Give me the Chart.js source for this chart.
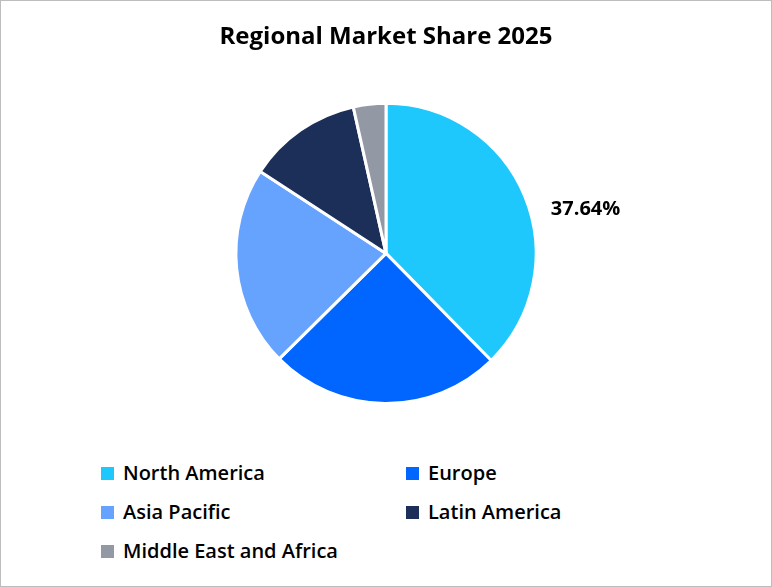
<!DOCTYPE html>
<html>
<head>
<meta charset="utf-8">
<script src="https://cdn.jsdelivr.net/npm/chart.js@4"></script>
<style>
  body { margin: 0; background: #fff; font-family: "Open Sans", "Noto Sans", sans-serif; }
  #wrap { position: absolute; left: 0; top: 0; width: 770px; height: 585px; border: 1px solid #bdbdbd; }
  #chartBox { position: absolute; left: 0; top: 0; width: 770px; height: 410px; }
  #legend { position: absolute; left: 100px; top: 458px; width: 600px; }
  .item { position: absolute; font-size: 20px; color: #000; white-space: nowrap; font-weight: 600; }
  .item span { display: inline-block; width: 13px; height: 13px; margin-right: 9px; }
</style>
</head>
<body>
<div id="wrap">
  <div id="chartBox"><canvas id="myChart"></canvas></div>
  <div id="legend"></div>
</div>
<script>
const regions = ['North America', 'Europe', 'Asia Pacific', 'Latin America', 'Middle East and Africa'];
const shares = [37.64, 24.96, 21.6, 12.3, 3.5];
const colors = ['#1ec8fc', '#0066ff', '#66a3ff', '#1b2f58', '#9399a4'];

const outsideLabel = {
  id: 'outsideLabel',
  afterDatasetsDraw(chart) {
    const arc = chart.getDatasetMeta(0).data[0];
    const mid = (arc.startAngle + arc.endAngle) / 2;
    const r = arc.outerRadius * 1.1;
    const x = arc.x + Math.cos(mid) * r + 12;
    const y = arc.y + Math.sin(mid) * r + 18;
    const c = chart.ctx;
    c.save();
    c.font = 'bold 20px "Open Sans", sans-serif';
    c.fillStyle = '#000';
    c.textAlign = 'left';
    c.textBaseline = 'middle';
    c.fillText(shares[0].toFixed(2) + '%', x, y);
    c.restore();
  }
};

new Chart(document.getElementById('myChart').getContext('2d'), {
  type: 'pie',
  data: {
    labels: regions,
    datasets: [{
      data: shares,
      backgroundColor: colors,
      borderColor: '#fff',
      borderWidth: 3
    }]
  },
  options: {
    responsive: true,
    maintainAspectRatio: false,
    animation: false,
    layout: { padding: { bottom: 6 } },
    plugins: {
      legend: { display: false },
      tooltip: { enabled: false },
      title: {
        display: true,
        text: 'Regional Market Share 2025',
        color: '#000',
        font: { family: '"Open Sans", sans-serif', size: 24, weight: 'bold' },
        padding: { top: 22, bottom: 50 }
      }
    }
  },
  plugins: [outsideLabel]
});

const legend = document.getElementById('legend');
regions.forEach((name, i) => {
  const d = document.createElement('div');
  d.className = 'item';
  d.style.left = (i % 2 ? 305 : 0) + 'px';
  d.style.top = (Math.floor(i / 2) * 39) + 'px';
  d.innerHTML = '<span style="background:' + colors[i] + '"></span>' + name;
  legend.appendChild(d);
});
</script>
</body>
</html>
